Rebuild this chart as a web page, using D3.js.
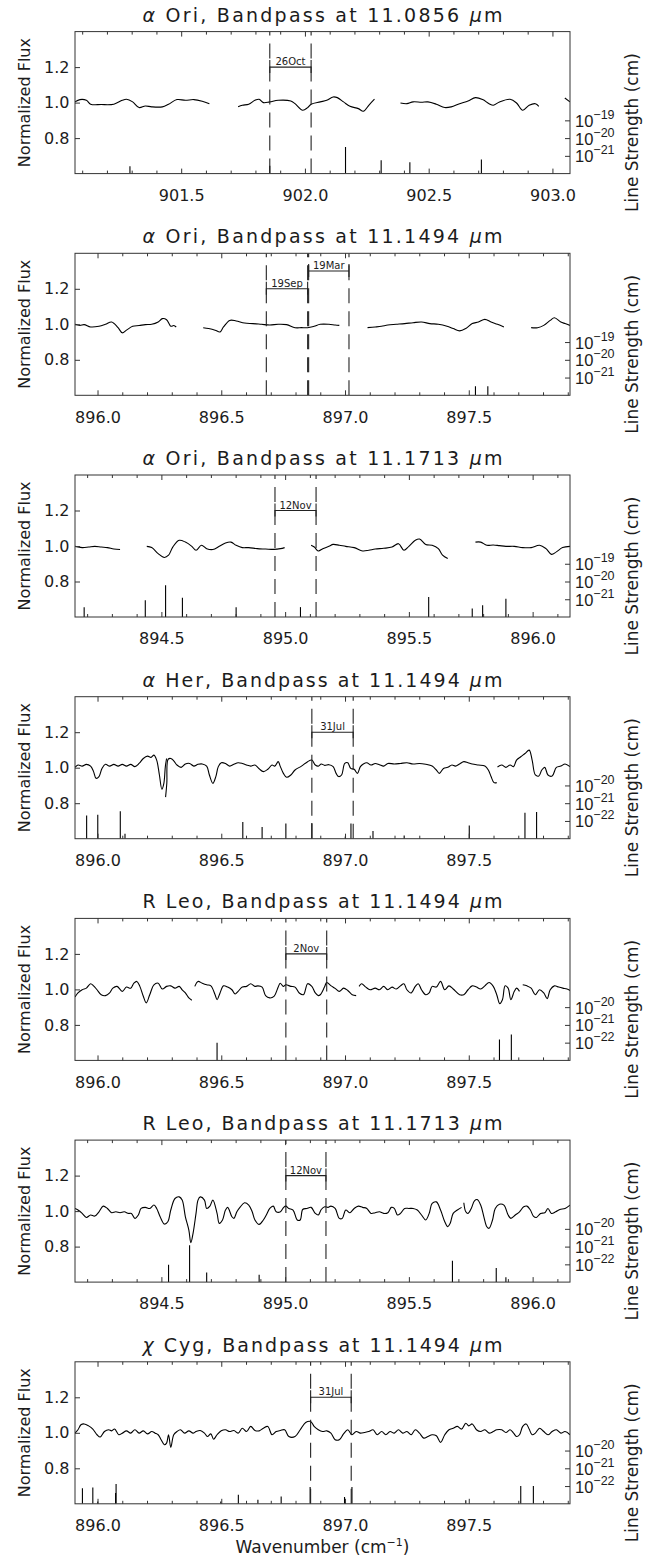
<!DOCTYPE html>
<html><head><meta charset="utf-8">
<script src="https://cdn.jsdelivr.net/npm/d3@7"></script>
<style>
body{margin:0;background:#fff;}
svg{display:block;font-family:"DejaVu Sans",sans-serif;}
</style></head><body>
<svg id="c" width="660" height="1556"></svg>
<script>
// ---------------- DATA ----------------
const titles = [
  "α Ori, Bandpass at 11.0856 μm",
  "α Ori, Bandpass at 11.1494 μm",
  "α Ori, Bandpass at 11.1713 μm",
  "α Her, Bandpass at 11.1494 μm",
  "R Leo, Bandpass at 11.1494 μm",
  "R Leo, Bandpass at 11.1713 μm",
  "χ Cyg, Bandpass at 11.1494 μm"
];
const xDomains = [
  [901.071, 903.071], [895.909, 897.909], [894.151, 896.151],
  [895.909, 897.909], [895.909, 897.909], [894.151, 896.151], [895.909, 897.909]
];
const fluxDomain = [0.6, 1.4];
const fluxTicks = [0.8, 1.0, 1.2];
const lsDomains = [
  [1e-22, 1e-14], [1e-22, 1e-14], [1e-22, 1e-14],
  [1e-23, 1e-15], [1e-23, 1e-15], [1e-23, 1e-15], [1e-23, 1e-15]
];
const lsTicks = [
  [1e-21, 1e-20, 1e-19], [1e-21, 1e-20, 1e-19], [1e-21, 1e-20, 1e-19],
  [1e-22, 1e-21, 1e-20], [1e-22, 1e-21, 1e-20], [1e-22, 1e-21, 1e-20], [1e-22, 1e-21, 1e-20]
];
// observation date brackets: [label, from, to, level]
const dates = [
  [["26Oct", 901.858, 902.025, 1.2]],
  [["19Sep", 896.682, 896.849, 1.2], ["19Mar", 896.853, 897.016, 1.3]],
  [["12Nov", 894.959, 895.125, 1.2]],
  [["31Jul", 896.866, 897.033, 1.2]],
  [["2Nov", 896.761, 896.926, 1.2]],
  [["12Nov", 895.003, 895.165, 1.2]],
  [["31Jul", 896.861, 897.025, 1.2]]
];

// spectra: segments of [wavenumber, normalized flux]
const spec1 = [
  [[901.071,1.004],[901.091,1.017],[901.117,1.013],[901.134,0.991],[901.177,0.989],[901.228,0.991],[901.262,1.013],[901.279,1.019],[901.304,1.004],[901.330,0.972],[901.355,0.981],[901.381,0.976],[901.424,0.976],[901.449,0.991],[901.483,1.017],[901.517,1.013],[901.551,1.017],[901.585,1.008],[901.614,0.994]],
  [[901.730,0.976],[901.747,0.985],[901.773,0.991],[901.798,1.013],[901.815,1.019],[901.832,1.000],[901.858,1.004],[901.892,1.013],[901.943,1.009],[901.960,0.994],[901.991,0.957],[902.011,0.972],[902.025,0.991],[902.062,1.004],[902.088,1.013],[902.114,1.032],[902.131,1.028],[902.156,1.004],[902.182,0.979],[902.216,0.966],[902.236,0.951],[902.258,0.985],[902.281,1.019]],
  [[902.386,0.998],[902.412,0.994],[902.437,1.004],[902.471,1.002],[902.497,1.004],[902.531,0.991],[902.565,0.972],[902.591,0.976],[902.625,0.994],[902.659,1.009],[902.689,1.028],[902.718,1.017],[902.744,0.994],[902.761,0.985],[902.786,1.004],[902.829,1.019],[902.855,0.998],[902.880,0.957],[902.906,0.985],[902.931,0.994],[902.945,0.979]],
  [[903.050,1.026],[903.071,1.004]]
];
const spec2 = [
  [[895.909,1.000],[895.929,0.994],[895.946,0.998],[895.972,0.985],[896.006,0.989],[896.032,1.000],[896.057,1.013],[896.083,0.981],[896.100,0.952],[896.117,0.967],[896.142,0.989],[896.168,0.993],[896.193,0.998],[896.219,1.000],[896.245,1.013],[896.262,1.032],[896.279,1.026],[896.296,0.989],[896.308,0.993],[896.318,0.985]],
  [[896.427,0.981],[896.449,0.976],[896.475,0.967],[896.495,0.957],[896.509,0.985],[896.534,1.022],[896.560,1.019],[896.594,1.007],[896.628,1.004],[896.662,1.000],[896.696,0.996],[896.730,1.000],[896.764,0.998],[896.798,0.981],[896.824,0.981],[896.849,0.981],[896.875,0.989],[896.900,1.000],[896.935,1.000],[896.960,0.996],[896.977,0.994]],
  [[897.091,0.981],[897.122,0.985],[897.147,0.989],[897.173,0.996],[897.207,1.000],[897.241,1.004],[897.275,1.009],[897.309,1.013],[897.343,1.004],[897.377,1.000],[897.412,0.989],[897.437,0.976],[897.463,0.963],[897.488,0.976],[897.514,1.004],[897.539,1.013],[897.565,1.028],[897.590,1.013],[897.616,1.000],[897.642,0.985]],
  [[897.752,0.981],[897.778,0.981],[897.803,0.994],[897.829,1.022],[897.846,1.037],[897.872,1.013],[897.889,1.004],[897.909,0.994]]
];
const spec3 = [
  [[894.151,0.998],[894.180,0.991],[894.206,0.994],[894.231,0.998],[894.257,0.994],[894.282,0.991],[894.308,0.983],[894.333,0.980]],
  [[894.441,0.998],[894.461,0.991],[894.487,0.957],[894.512,0.935],[894.529,0.948],[894.546,0.994],[894.572,1.032],[894.597,1.022],[894.623,0.998],[894.640,0.976],[894.662,1.004],[894.683,0.985],[894.708,0.980],[894.734,0.998],[894.759,1.017],[894.781,1.022],[894.802,1.004],[894.827,0.991],[894.853,0.991],[894.887,0.985],[894.921,0.983],[894.955,0.981],[894.981,0.985],[894.998,0.991]],
  [[895.105,1.004],[895.118,0.994],[895.134,0.972],[895.152,0.985],[895.177,0.998],[895.194,1.009],[895.219,1.004],[895.245,0.998],[895.279,0.991],[895.313,0.972],[895.338,0.976],[895.364,0.983],[895.398,0.987],[895.432,0.994],[895.458,1.013],[895.480,0.976],[895.500,0.998],[895.526,1.032],[895.543,1.039],[895.568,1.009],[895.594,1.004],[895.619,0.985],[895.636,0.948],[895.657,0.929]],
  [[895.769,1.022],[895.790,1.022],[895.815,1.004],[895.841,1.006],[895.866,1.002],[895.892,0.998],[895.926,0.998],[895.960,0.991],[895.994,0.991],[896.028,1.004],[896.054,0.985],[896.076,0.953],[896.096,0.967],[896.121,0.991],[896.151,0.998]]
];
const spec4 = [
  [[895.909,1.002],[895.921,1.015],[895.938,1.009],[895.955,1.019],[895.972,1.009],[895.984,0.978],[895.994,0.940],[896.006,0.950],[896.018,0.996],[896.032,1.019],[896.049,1.009],[896.066,1.019],[896.083,1.009],[896.100,1.019],[896.117,1.009],[896.134,1.019],[896.151,1.006],[896.168,1.024],[896.185,1.052],[896.202,1.065],[896.216,1.058],[896.228,1.071],[896.239,1.043],[896.250,0.959],[896.260,0.879],[896.268,0.912],[896.274,1.006],[896.279,1.052]],
  [[896.275,0.834],[896.280,0.912],[896.285,1.047],[896.296,1.052],[896.308,1.039],[896.321,1.015],[896.338,1.002],[896.355,1.021],[896.372,1.024],[896.389,1.009],[896.406,1.019],[896.423,1.021],[896.441,1.009],[896.452,0.959],[896.466,0.912],[896.478,0.950],[896.488,1.006],[896.500,1.028],[896.517,1.024],[896.534,1.009],[896.551,1.019],[896.568,1.028],[896.585,1.024],[896.602,1.015],[896.619,1.009],[896.636,1.015],[896.653,0.994],[896.670,0.978],[896.688,0.991],[896.705,1.015],[896.716,1.009],[896.730,1.034],[896.738,1.009],[896.751,0.968],[896.764,0.946],[896.781,0.959],[896.798,0.987],[896.824,1.009],[896.849,1.034],[896.866,1.043],[896.880,1.015],[896.892,1.009],[896.904,1.021],[896.918,1.013],[896.935,1.017],[896.952,1.006],[896.964,0.968],[896.974,0.950],[896.986,0.959],[896.999,1.024],[897.011,1.028],[897.023,0.996],[897.037,0.991],[897.050,0.968],[897.062,1.006],[897.074,1.021],[897.088,1.028],[897.105,1.015],[897.122,1.024],[897.139,1.017],[897.156,1.009],[897.173,1.024],[897.199,1.021],[897.224,1.024],[897.250,1.028],[897.275,1.021],[897.301,1.024],[897.326,1.019],[897.352,1.009],[897.369,0.987],[897.381,0.968],[897.398,0.996],[897.415,1.002],[897.432,1.015],[897.446,1.009],[897.463,1.021],[897.480,1.034],[897.497,1.028],[897.514,1.021],[897.539,1.015],[897.565,1.009],[897.579,0.987],[897.590,0.950],[897.602,0.916],[897.613,0.916]],
  [[897.616,1.004],[897.633,1.015],[897.650,1.002],[897.667,1.015],[897.681,1.006],[897.693,1.043],[897.710,1.062],[897.727,1.080],[897.744,1.099],[897.756,1.043],[897.769,0.959],[897.783,0.953],[897.795,0.987],[897.807,1.002],[897.820,0.959],[897.837,0.953],[897.854,1.002],[897.872,1.009],[897.889,1.021],[897.909,1.006]]
];
const spec5 = [
  [[895.909,0.957],[895.921,0.980],[895.938,0.998],[895.955,1.007],[895.972,1.032],[895.984,1.020],[895.998,0.998],[896.015,0.970],[896.032,0.965],[896.049,0.980],[896.062,1.007],[896.079,1.017],[896.100,0.989],[896.117,1.013],[896.134,1.007],[896.147,1.035],[896.159,1.045],[896.171,1.017],[896.185,0.961],[896.197,0.924],[896.211,0.970],[896.228,1.026],[896.245,1.035],[896.262,1.002],[896.279,1.017],[896.296,1.020],[896.313,1.007],[896.330,1.017],[896.342,0.998],[896.355,0.980],[896.369,0.952],[896.381,0.939]],
  [[896.393,1.017],[896.406,1.045],[896.423,1.035],[896.441,1.026],[896.458,1.020],[896.475,0.970],[896.483,0.942],[896.495,0.980],[896.509,1.020],[896.526,1.013],[896.543,0.998],[896.556,0.974],[896.568,0.989],[896.585,1.013],[896.602,1.017],[896.619,1.032],[896.636,1.017],[896.648,1.020],[896.665,1.013],[896.679,0.965],[896.696,0.952],[896.713,0.961],[896.730,1.013],[896.738,1.035],[896.751,1.017],[896.761,1.026],[896.781,1.017],[896.798,1.013],[896.815,0.980],[896.832,0.970],[896.849,1.032],[896.866,1.017],[896.880,0.980],[896.892,0.965],[896.900,0.970],[896.917,1.013],[896.926,1.039],[896.944,1.020],[896.960,1.006],[896.977,0.989],[896.994,1.007],[897.011,0.994],[897.029,0.970],[897.045,0.965]],
  [[897.057,1.017],[897.067,1.032],[897.084,1.013],[897.101,0.998],[897.122,1.007],[897.139,0.998],[897.156,1.017],[897.173,0.998],[897.190,1.013],[897.207,1.002],[897.224,1.020],[897.238,1.032],[897.250,0.998],[897.267,0.980],[897.284,1.017],[897.296,1.032],[897.309,0.998],[897.326,0.970],[897.340,0.980],[897.352,1.017],[897.369,1.013],[897.386,1.045],[897.403,0.998],[897.420,1.020],[897.437,1.002],[897.463,0.970],[897.480,0.970],[897.497,0.998],[897.514,1.020],[897.531,1.013],[897.548,1.002],[897.565,1.020],[897.582,1.039],[897.599,1.017],[897.613,0.970],[897.625,0.920],[897.636,0.942],[897.647,1.020],[897.659,1.007],[897.670,0.942],[897.684,0.989],[897.693,1.007],[897.705,0.989]],
  [[897.718,1.026],[897.735,1.020],[897.752,1.007],[897.769,0.970],[897.786,0.998],[897.803,0.980],[897.817,0.948],[897.829,0.998],[897.846,1.020],[897.863,1.013],[897.880,1.007],[897.897,1.002],[897.909,0.994]]
];
const spec6 = [
  [[894.151,1.015],[894.163,1.006],[894.180,0.987],[894.197,0.964],[894.214,0.978],[894.231,0.972],[894.248,0.996],[894.265,1.028],[894.282,1.015],[894.299,0.991],[894.316,0.996],[894.333,0.991],[894.350,0.996],[894.367,0.987],[894.379,0.987],[894.393,0.959],[894.407,0.978],[894.418,1.015],[894.435,1.021],[894.453,1.015],[894.470,1.034],[894.481,1.015],[894.495,0.968],[894.512,0.927],[894.526,0.940],[894.538,1.006],[894.555,1.071],[894.572,1.080],[894.584,1.062],[894.597,0.968],[894.611,0.893],[894.619,0.822],[894.628,0.875],[894.640,0.987],[894.648,1.062],[894.657,1.080],[894.674,1.062],[894.683,1.015],[894.696,1.028],[894.708,1.062],[894.725,0.987],[894.734,0.931],[894.747,0.950],[894.759,1.006],[894.768,1.021],[894.785,0.968],[894.793,0.959],[894.805,0.996],[894.819,1.024],[894.836,1.047],[894.853,1.034],[894.867,0.996],[894.878,0.950],[894.895,0.925],[894.912,0.950],[894.924,0.978],[894.938,1.015],[894.952,1.028],[894.964,0.996],[894.981,0.996],[894.994,1.021],[895.003,1.028],[895.015,1.015],[895.032,1.006],[895.049,0.950],[895.061,0.950],[895.071,1.009],[895.088,1.015],[895.105,1.021],[895.122,0.987],[895.134,0.978],[895.146,1.009],[895.160,1.024],[895.173,1.021],[895.185,1.028],[895.202,1.015],[895.219,0.959],[895.231,0.959],[895.245,1.006],[895.262,0.991],[895.279,1.015],[895.296,1.028],[895.313,1.021],[895.330,1.015],[895.347,0.987],[895.364,0.991],[895.381,0.996],[895.398,0.987],[895.415,0.991],[895.429,1.021],[895.441,1.015],[895.454,0.978],[895.466,0.987],[895.483,1.015],[895.500,1.015],[895.517,1.015],[895.534,1.006],[895.551,0.978],[895.568,0.950],[895.582,0.987],[895.594,1.043],[895.611,1.052],[895.628,1.006],[895.645,0.940],[895.657,0.912],[895.667,0.931],[895.679,0.987],[895.696,1.006],[895.713,1.021]],
  [[895.722,1.047],[895.730,0.996],[895.739,0.987],[895.752,1.015],[895.765,1.058],[895.776,1.065],[895.790,1.034],[895.803,0.968],[895.815,0.912],[895.824,0.903],[895.838,0.950],[895.849,1.015],[895.866,1.039],[895.884,1.034],[895.901,0.978],[895.912,0.959],[895.930,0.978],[895.947,0.996],[895.964,1.024],[895.977,1.028],[895.991,1.006],[896.003,0.972],[896.015,0.964],[896.032,0.987],[896.049,0.991],[896.062,1.015],[896.076,0.987],[896.093,0.996],[896.110,1.009],[896.131,1.015],[896.151,1.034]]
];
const spec7 = [
  [[895.909,0.998],[895.921,1.017],[895.933,1.045],[895.946,1.050],[895.964,1.039],[895.981,1.021],[895.998,0.989],[896.011,0.976],[896.028,1.007],[896.045,1.017],[896.057,1.011],[896.069,1.021],[896.086,0.989],[896.100,0.998],[896.117,1.011],[896.134,0.998],[896.151,1.017],[896.168,0.998],[896.185,1.011],[896.202,0.994],[896.219,1.007],[896.233,0.998],[896.245,0.989],[896.257,0.961],[896.270,0.933],[896.279,0.942],[896.287,0.989],[896.296,0.918],[896.308,0.989],[896.321,1.007],[896.335,1.017],[896.352,0.998],[896.369,1.011],[896.386,0.998],[896.398,1.007],[896.415,1.013],[896.432,0.998],[896.444,0.979],[896.458,0.994],[896.469,0.964],[896.483,0.989],[896.500,1.011],[896.517,1.017],[896.534,1.007],[896.551,1.013],[896.568,0.998],[896.585,1.026],[896.602,1.007],[896.619,1.036],[896.636,1.013],[896.653,1.011],[896.670,1.026],[896.688,1.036],[896.705,0.989],[896.722,1.007],[896.739,1.013],[896.756,1.017],[896.773,0.979],[896.798,0.979],[896.819,1.017],[896.841,1.058],[896.861,1.064],[896.875,1.036],[896.892,1.017],[896.909,1.007],[896.926,1.011],[896.943,0.998],[896.960,0.961],[896.977,0.961],[896.994,0.994],[897.011,1.017],[897.028,0.989],[897.045,1.007],[897.062,0.998],[897.079,1.002],[897.096,1.007],[897.113,1.017],[897.130,0.989],[897.148,1.007],[897.165,0.989],[897.182,1.007],[897.199,0.998],[897.216,1.017],[897.233,0.998],[897.250,1.007],[897.267,0.989],[897.284,1.017],[897.301,0.998],[897.318,0.970],[897.335,0.979],[897.352,0.989],[897.369,0.983],[897.386,0.946],[897.403,0.989],[897.420,1.017],[897.437,1.026],[897.454,1.036],[897.471,1.021],[897.488,1.054],[897.500,1.039],[897.514,1.050],[897.531,1.017],[897.548,1.007],[897.565,1.017],[897.582,0.998],[897.599,1.007],[897.613,1.017],[897.633,1.017],[897.650,1.002],[897.667,1.017],[897.681,0.998],[897.693,0.979],[897.705,0.989],[897.718,1.036],[897.732,1.050],[897.744,1.021],[897.756,0.989],[897.769,0.998],[897.786,1.026],[897.803,1.007],[897.820,0.989],[897.837,1.007],[897.854,1.017],[897.872,0.998],[897.889,1.007],[897.909,0.989]]
];

// line list: positions (cm^-1) and strengths (cm)
const linesWn1 = [901.293, 901.858, 902.164, 902.308, 902.424, 902.713];
const linesS1  = [2.6e-22, 2.8e-22, 3.2e-21, 5.6e-22, 4.4e-22, 6.2e-22];
const linesWn2 = [897.527, 897.577];
const linesS2  = [3.2e-22, 3.2e-22];
const linesWn3 = [894.188, 894.435, 894.517, 894.585, 894.802, 895.062, 895.580, 895.756, 895.798, 895.892];
const linesS3  = [3.6e-22, 8.7e-22, 6.2e-21, 1.2e-21, 3.6e-22, 3.6e-22, 1.35e-21, 3.0e-22, 4.6e-22, 1.07e-21];
const linesWn4 = [895.956, 896.001, 896.092, 896.111, 896.587, 896.665, 896.761, 896.866, 897.001, 897.024, 897.113, 897.239, 897.502, 897.727, 897.774];
const linesS4  = [2.0e-22, 2.2e-22, 3.5e-22, 1.9e-23, 8.7e-23, 4.6e-23, 7.1e-23, 7.6e-23, 1.35e-23, 7.1e-23, 2.7e-23, 1.5e-23, 5.6e-23, 2.9e-22, 3.2e-22];
const linesWn5 = [896.483, 897.624, 897.672];
const linesS5  = [1.0e-22, 1.5e-22, 2.9e-22];
const linesWn6 = [894.529, 894.614, 894.683, 894.895, 895.676, 895.853, 895.892];
const linesS6  = [9.5e-23, 1.2e-21, 3.5e-23, 2.6e-23, 1.6e-22, 6.2e-23, 1.9e-23];
const linesWn7 = [895.939, 895.981, 896.001, 896.073, 896.075, 896.498, 896.569, 896.648, 896.742, 896.859, 896.998, 897.028, 897.488, 897.710, 897.761];
const linesS7  = [7.6e-23, 8.3e-23, 1.35e-23, 4.0e-23, 1.3e-22, 1.35e-23, 3.2e-23, 1.7e-23, 2.6e-23, 8.7e-23, 2.4e-23, 8.7e-23, 1.6e-23, 1.0e-22, 1.0e-22];

const spectra = [spec1, spec2, spec3, spec4, spec5, spec6, spec7];
const linesWn = [linesWn1, linesWn2, linesWn3, linesWn4, linesWn5, linesWn6, linesWn7];
const linesS = [linesS1, linesS2, linesS3, linesS4, linesS5, linesS6, linesS7];

// ---------------- LAYOUT ----------------
const X0 = 75, X1 = 570, PH = 142, TOP0 = 31.6, STEP = 221.7;
const INK = "#1c1c1c";
const svg = d3.select("#c");

titles.forEach((title, i) => {
  const top = TOP0 + i * STEP, bot = top + PH;
  const x = d3.scaleLinear().domain(xDomains[i]).range([X0, X1]);
  const y = d3.scaleLinear().domain(fluxDomain).range([bot, top]);
  const ys = d3.scaleLog().domain(lsDomains[i]).range([bot, top]);
  const g = svg.append("g");

  const cid = "clip" + i;
  svg.append("clipPath").attr("id", cid).append("rect")
    .attr("x", X0).attr("y", top).attr("width", X1 - X0).attr("height", PH);
  const inner = g.append("g").attr("clip-path", `url(#${cid})`);

  // spectrum
  const line = d3.line().x(d => x(d[0])).y(d => y(d[1])).curve(d3.curveCatmullRom.alpha(0.5));
  inner.selectAll("path.spec").data(spectra[i]).join("path")
    .attr("class", "spec").attr("d", line)
    .attr("fill", "none").attr("stroke", "#000").attr("stroke-width", 1.1);

  // line strengths (sticks)
  inner.selectAll("line.stick").data(d3.zip(linesWn[i], linesS[i])).join("line")
    .attr("x1", d => x(d[0])).attr("x2", d => x(d[0]))
    .attr("y1", bot).attr("y2", d => ys(d[1]))
    .attr("stroke", "#000").attr("stroke-width", 1.1);

  // dashed observation lines and brackets
  dates[i].forEach(([label, from, to, level]) => {
    [from, to].forEach(v => {
      inner.append("line").attr("x1", x(v)).attr("x2", x(v)).attr("y1", bot).attr("y2", top)
        .attr("stroke", "#222").attr("stroke-width", 1.1).attr("stroke-dasharray", "15,8");
    });
    const yl = y(level);
    g.append("line").attr("x1", x(from)).attr("x2", x(to)).attr("y1", yl).attr("y2", yl)
      .attr("stroke", "#222").attr("stroke-width", 1.1);
    [from, to].forEach(v => {
      g.append("line").attr("x1", x(v)).attr("x2", x(v)).attr("y1", yl - 7).attr("y2", yl + 6)
        .attr("stroke", "#222").attr("stroke-width", 1.1);
    });
    g.append("text").attr("x", (x(from) + x(to)) / 2).attr("y", yl - 2)
      .attr("text-anchor", "middle").style("font-size", "10px").attr("fill", INK).text(label);
  });

  // frame
  g.append("rect").attr("x", X0).attr("y", top).attr("width", X1 - X0).attr("height", PH)
    .attr("fill", "none").attr("stroke", "#333").attr("stroke-width", 1);

  const [lo, hi] = xDomains[i];
  const major = d3.range(Math.ceil(lo * 2) / 2, hi + 1e-9, 0.5);
  const minor = d3.range(Math.ceil(lo * 10) / 10, hi + 1e-9, 0.1).filter(v => !major.some(m => Math.abs(m - v) < 1e-6));

  const styleAxis = sel => {
    sel.select(".domain").remove();
    sel.selectAll(".tick line").attr("stroke", "#333");
    sel.selectAll("text").attr("fill", INK).style("font-family", "DejaVu Sans, sans-serif");
  };

  g.append("g").attr("transform", `translate(0,${bot})`)
    .call(d3.axisBottom(x).tickValues(major).tickSize(-5).tickPadding(16).tickFormat(d3.format(".1f")))
    .call(styleAxis).selectAll("text").style("font-size", "16px");
  g.append("g").attr("transform", `translate(0,${bot})`)
    .call(d3.axisBottom(x).tickValues(minor).tickSize(-3).tickFormat(""))
    .call(styleAxis);
  g.append("g").attr("transform", `translate(0,${top})`)
    .call(d3.axisTop(x).tickValues(major).tickSize(-5).tickFormat(""))
    .call(styleAxis);
  g.append("g").attr("transform", `translate(0,${top})`)
    .call(d3.axisTop(x).tickValues(minor).tickSize(-3).tickFormat(""))
    .call(styleAxis);

  g.append("g").attr("transform", `translate(${X0},0)`)
    .call(d3.axisLeft(y).tickValues(fluxTicks).tickSize(-5).tickPadding(5.5).tickFormat(d3.format(".1f")))
    .call(styleAxis).selectAll("text").style("font-size", "16px");

  const ra = g.append("g").attr("transform", `translate(${X1},0)`)
    .call(d3.axisRight(ys).tickValues(lsTicks[i]).tickSize(-5).tickPadding(5.5).tickFormat(""))
    .call(styleAxis);
  ra.selectAll(".tick text").remove();
  ra.selectAll(".tick").each(function(d) {
    const t = d3.select(this).append("text").attr("x", 5).attr("y", 6)
      .attr("fill", INK).style("font-size", "16.5px").attr("text-anchor", "start");
    t.append("tspan").text("10");
    t.append("tspan").attr("dy", -8).style("font-size", "12.5px").text("\u2212" + Math.round(-Math.log10(d)));
  });

  // title with italic Greek letters
  const tt = g.append("text").attr("x", (X0 + X1) / 2).attr("y", top - 10)
    .attr("text-anchor", "middle").style("font-size", "19px").attr("fill", INK)
    .attr("textLength", 360).attr("lengthAdjust", "spacing");
  title.split(/([αχμ])/).forEach(part => {
    if (!part) return;
    tt.append("tspan").attr("font-style", /[αχμ]/.test(part) ? "italic" : null).text(part);
  });

  // axis titles
  g.append("text").attr("transform", `translate(30,${(top + bot) / 2}) rotate(-90)`)
    .attr("text-anchor", "middle").style("font-size", "16px").attr("fill", INK).text("Normalized Flux");
  g.append("text").attr("transform", `translate(638,${top + 101}) rotate(-90)`)
    .attr("text-anchor", "middle").style("font-size", "17px").attr("fill", INK).text("Line Strength (cm)");

  if (i === titles.length - 1) {
    const xt = g.append("text").attr("x", (X0 + X1) / 2).attr("y", bot + 49)
      .attr("text-anchor", "middle").style("font-size", "17px").attr("fill", INK);
    xt.append("tspan").text("Wavenumber (cm");
    xt.append("tspan").attr("dy", -7).style("font-size", "11px").text("\u22121");
    xt.append("tspan").attr("dy", 7).text(")");
  }
});
</script>
</body></html>
